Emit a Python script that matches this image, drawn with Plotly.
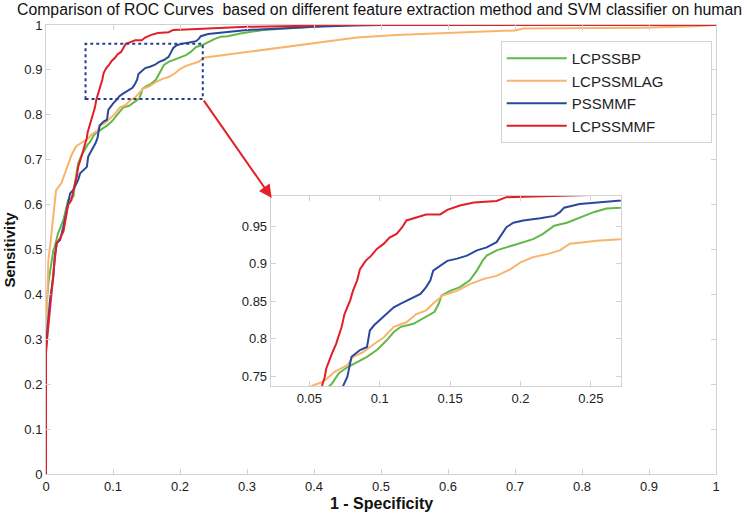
import plotly.graph_objects as go

names = ["LCPSSBP", "LCPSSMLAG", "PSSMMF", "LCPSSMMF"]
colors = ["rgb(98,184,72)", "rgb(248,180,108)", "rgb(44,72,158)", "rgb(226,30,40)"]

green_x = [0, 0, 0.0035, 0.0085, 0.011, 0.013, 0.018, 0.026, 0.028, 0.033, 0.041, 0.043, 0.048, 0.053, 0.058, 0.062, 0.066, 0.068, 0.071, 0.077, 0.084, 0.091, 0.098, 0.105, 0.110, 0.115, 0.124, 0.133, 0.139, 0.142, 0.144, 0.150, 0.157, 0.164, 0.169, 0.173, 0.176, 0.183, 0.190, 0.200, 0.209, 0.216, 0.224, 0.233, 0.242, 0.252, 0.261, 0.271, 0.29, 0.324, 0.359, 0.40, 0.44, 1.0]
green_y = [0, 0.36, 0.425, 0.469, 0.499, 0.506, 0.536, 0.566, 0.577, 0.610, 0.618, 0.647, 0.692, 0.710, 0.722, 0.733, 0.740, 0.745, 0.754, 0.762, 0.769, 0.776, 0.785, 0.798, 0.809, 0.816, 0.820, 0.829, 0.836, 0.847, 0.858, 0.864, 0.869, 0.878, 0.891, 0.904, 0.911, 0.918, 0.922, 0.927, 0.933, 0.940, 0.951, 0.955, 0.962, 0.969, 0.974, 0.975, 0.981, 0.989, 0.992, 0.996, 1.0, 1.0]

orange_x = [0, 0, 0.002, 0.0035, 0.006, 0.0085, 0.011, 0.015, 0.023, 0.028, 0.033, 0.038, 0.045, 0.053, 0.059, 0.062, 0.068, 0.077, 0.081, 0.088, 0.096, 0.103, 0.110, 0.119, 0.126, 0.133, 0.138, 0.145, 0.155, 0.164, 0.174, 0.183, 0.193, 0.200, 0.209, 0.219, 0.228, 0.235, 0.245, 0.254, 0.271, 0.30, 0.364, 0.40, 0.464, 0.523, 0.633, 0.70, 0.712, 0.80, 0.89, 0.97, 1.0]
orange_y = [0, 0.28, 0.40, 0.477, 0.506, 0.543, 0.573, 0.632, 0.648, 0.670, 0.690, 0.710, 0.730, 0.738, 0.742, 0.746, 0.756, 0.765, 0.776, 0.782, 0.793, 0.802, 0.816, 0.822, 0.833, 0.838, 0.847, 0.858, 0.864, 0.873, 0.880, 0.884, 0.893, 0.902, 0.909, 0.913, 0.918, 0.927, 0.929, 0.931, 0.933, 0.940, 0.952, 0.959, 0.972, 0.978, 0.985, 0.988, 0.992, 0.993, 0.994, 0.997, 1.0]

blue_x = [0, 0, 0.002, 0.006, 0.011, 0.013, 0.016, 0.021, 0.026, 0.031, 0.036, 0.041, 0.048, 0.051, 0.061, 0.063, 0.068, 0.072, 0.074, 0.077, 0.080, 0.086, 0.091, 0.093, 0.096, 0.100, 0.105, 0.110, 0.115, 0.122, 0.129, 0.133, 0.136, 0.138, 0.143, 0.148, 0.155, 0.162, 0.169, 0.176, 0.183, 0.187, 0.190, 0.195, 0.202, 0.214, 0.224, 0.228, 0.231, 0.242, 0.254, 0.271, 0.30, 0.35, 0.40, 0.46, 0.50, 1.0]
blue_y = [0, 0.28, 0.32, 0.388, 0.44, 0.484, 0.514, 0.521, 0.551, 0.588, 0.625, 0.633, 0.655, 0.670, 0.684, 0.707, 0.720, 0.730, 0.737, 0.749, 0.776, 0.785, 0.789, 0.811, 0.818, 0.825, 0.833, 0.842, 0.847, 0.853, 0.860, 0.869, 0.878, 0.891, 0.898, 0.904, 0.907, 0.911, 0.918, 0.922, 0.929, 0.940, 0.949, 0.955, 0.958, 0.961, 0.964, 0.969, 0.975, 0.980, 0.982, 0.984, 0.989, 0.992, 0.996, 0.999, 1.0, 1.0]

red_x = [0, 0, 0.002, 0.006, 0.010, 0.013, 0.016, 0.021, 0.026, 0.028, 0.031, 0.033, 0.038, 0.041, 0.046, 0.048, 0.053, 0.056, 0.059, 0.061, 0.062, 0.066, 0.069, 0.073, 0.075, 0.079, 0.081, 0.084, 0.086, 0.090, 0.094, 0.098, 0.103, 0.107, 0.112, 0.116, 0.119, 0.126, 0.133, 0.143, 0.148, 0.157, 0.167, 0.183, 0.190, 0.209, 0.228, 0.25, 0.30, 0.38, 0.42, 1.0]
red_y = [0, 0.27, 0.306, 0.373, 0.425, 0.477, 0.514, 0.525, 0.54, 0.558, 0.588, 0.599, 0.610, 0.633, 0.662, 0.684, 0.707, 0.722, 0.737, 0.749, 0.760, 0.780, 0.793, 0.816, 0.833, 0.851, 0.864, 0.878, 0.893, 0.904, 0.911, 0.920, 0.927, 0.935, 0.940, 0.949, 0.958, 0.962, 0.966, 0.966, 0.972, 0.978, 0.982, 0.984, 0.989, 0.990, 0.991, 0.993, 0.996, 0.998, 1.0, 1.0]

main_ticks = [0, 0.1, 0.2, 0.3, 0.4, 0.5, 0.6, 0.7, 0.8, 0.9, 1]
main_ticklabels = ["0", "0.1", "0.2", "0.3", "0.4", "0.5", "0.6", "0.7", "0.8", "0.9", "1"]
inset_xticks = [0.05, 0.1, 0.15, 0.2, 0.25]
inset_xticklabels = ["0.05", "0.1", "0.15", "0.2", "0.25"]
inset_yticks = [0.75, 0.8, 0.85, 0.9, 0.95]
inset_yticklabels = ["0.75", "0.8", "0.85", "0.9", "0.95"]

title_text = "Comparison of ROC Curves  based on different feature extraction method and SVM classifier on human"
xlabel = "1 - Specificity"
ylabel = "Sensitivity"

series = [(green_x, green_y), (orange_x, orange_y), (blue_x, blue_y), (red_x, red_y)]

FONT = "Liberation Sans, Arial, sans-serif"
AX = "rgb(210,210,210)"
PAD = "&nbsp;" * 10  # invisible right padding so the legend box is as wide as the reference

fig = go.Figure()
for (sx, sy), n, c in zip(series, names, colors):
    fig.add_trace(go.Scatter(x=sx, y=sy, mode="lines", name=n + PAD,
                             line=dict(color=c, width=2), xaxis="x", yaxis="y"))
for (sx, sy), n, c in zip(series, names, colors):
    fig.add_trace(go.Scatter(x=sx, y=sy, mode="lines", name=n, showlegend=False,
                             line=dict(color=c, width=2), xaxis="x2", yaxis="y2"))

axis_common = dict(showgrid=False, zeroline=False, showline=True, linecolor=AX, linewidth=1,
                   mirror="ticks", ticks="inside", ticklen=5, tickcolor=AX,
                   tickfont=dict(family=FONT, size=13, color="#222"))

fig.update_layout(
    width=747, height=514,
    margin=dict(l=46, r=31, t=25, b=40),
    paper_bgcolor="white", plot_bgcolor="white",
    showlegend=True,
    legend=dict(x=0.6787, y=(474 - 41) / 449, xanchor="left", yanchor="top",
                bordercolor=AX, borderwidth=1, bgcolor="white",
                itemwidth=60,
                font=dict(family=FONT, size=15, color="#222")),
    xaxis=dict(range=[0, 1], domain=[0, 1], tickvals=main_ticks, ticktext=main_ticklabels, **axis_common),
    yaxis=dict(range=[0, 1], domain=[0, 1], tickvals=main_ticks, ticktext=main_ticklabels, **axis_common),
    xaxis2=dict(range=[0.0226, 0.2713], domain=[0.3354, 0.858], anchor="y2",
                tickvals=inset_xticks, ticktext=inset_xticklabels, **axis_common),
    yaxis2=dict(range=[0.737, 0.9905], domain=[0.196, 0.619], anchor="x2",
                tickvals=inset_yticks, ticktext=inset_yticklabels, **axis_common),
)

# inset background
fig.add_shape(type="rect", xref="paper", yref="paper", x0=0.3354, x1=0.858, y0=0.196, y1=0.619,
              fillcolor="white", line=dict(width=0), layer="below")

# zoom rectangle
fig.add_shape(type="rect", xref="x", yref="y", x0=0.059, x1=0.234, y0=0.835, y1=0.958,
              line=dict(color="rgb(40,60,140)", width=2, dash="dot"))

# arrow
fig.add_annotation(x=0.3369, y=0.6147, xref="x", yref="y", ax=0.234, ay=0.835, axref="x", ayref="y",
                   showarrow=True, arrowhead=2, arrowsize=1.3, arrowwidth=2, arrowcolor="rgb(228,32,40)", text="")

fig.add_annotation(text=title_text, xref="paper", yref="paper", x=(15 - 46) / 670, y=(474 - 10) / 449,
                   xanchor="left", yanchor="middle", showarrow=False,
                   font=dict(family=FONT, size=15.8, color="#111"))
fig.add_annotation(text="<b>%s</b>" % xlabel, xref="paper", yref="paper", x=0.5, y=(474 - 503) / 449,
                   xanchor="center", yanchor="middle", showarrow=False,
                   font=dict(family=FONT, size=16, color="#111"))
fig.add_annotation(text="<b>%s</b>" % ylabel, xref="paper", yref="paper", x=(9 - 46) / 670, y=0.5,
                   xanchor="center", yanchor="middle", showarrow=False, textangle=-90,
                   font=dict(family=FONT, size=15, color="#111"))

fig.write_html("out.html", config={"displayModeBar": False},
               post_script="document.body.style.margin='0';document.body.style.overflow='hidden';")
